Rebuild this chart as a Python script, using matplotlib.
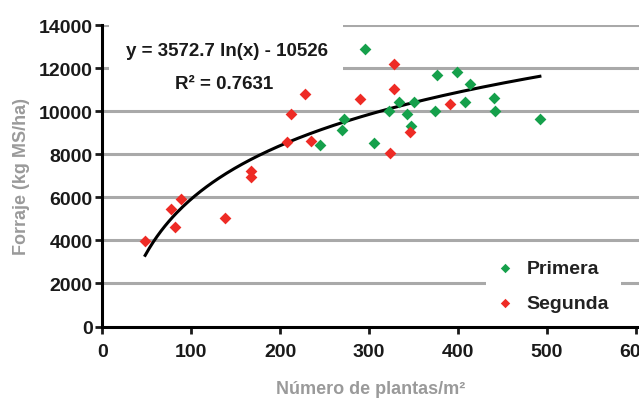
import matplotlib
matplotlib.use('Agg')
from matplotlib import pyplot as plt
from matplotlib.patches import Rectangle
import numpy as np

plt.rcParams['font.family'] = ['Liberation Sans', 'DejaVu Sans']
plt.rcParams['font.weight'] = 'bold'

# plants per m2 and forage (kg MS/ha)
primera_x = [245, 269, 272, 295, 305, 322, 333, 343, 347, 350, 374, 376, 399, 408, 413, 440, 442, 492]
primera_y = [8430, 9120, 9620, 12900, 8510, 10000, 10430, 9890, 9320, 10430, 10000, 11660, 11820, 10430, 11280, 10590, 10000, 9630]
segunda_x = [48, 77, 82, 88, 138, 167, 167, 207, 212, 228, 234, 290, 323, 328, 328, 346, 391]
segunda_y = [3950, 5470, 4600, 5940, 5060, 7240, 6920, 8570, 9860, 10790, 8610, 10550, 8050, 12170, 11050, 9040, 10310]

# log trend line as printed on the chart
coef_a = 3572.7
coef_b = -10526
r2 = 0.7631

x_ticks = [0, 100, 200, 300, 400, 500, 600]
y_ticks = [0, 2000, 4000, 6000, 8000, 10000, 12000, 14000]

fig = plt.figure(figsize=(6.39, 4.06), dpi=100)
ax = fig.add_axes([0.1604, 0.1933, 0.8396, 0.7426])

for yv in y_ticks[1:]:
    ax.axhline(yv, color='#a9a9a9', lw=2.2, zorder=1)

# white box behind the equation text
ax.add_patch(Rectangle((0.012, 0.76), 0.436, 0.27, transform=ax.transAxes,
                       fc='white', ec='none', zorder=2, clip_on=False))

ax.scatter(primera_x, primera_y, marker='D', s=36, color='#15a04b', lw=0, zorder=4, label='Primera')
ax.scatter(segunda_x, segunda_y, marker='D', s=36, color='#ee2b25', lw=0, zorder=4, label='Segunda')

all_x = primera_x + segunda_x
xt = np.linspace(min(all_x), max(all_x), 200)
ax.plot(xt, coef_a * np.log(xt) + coef_b, color='black', lw=2.2, zorder=3)

ax.text(140, 12800, 'y = 3572.7 ln(x) - 10526', ha='center', va='center',
        fontsize=13.5, color='#1a1a1a', zorder=5)
ax.text(137, 11300, 'R² = %.4f' % r2, ha='center', va='center',
        fontsize=13.5, color='#1a1a1a', zorder=5)

ax.set_xlim(0, 603.5)
ax.set_ylim(0, 14000)
ax.set_xticks(x_ticks)
ax.set_yticks(y_ticks)
for s in ['top', 'right']:
    ax.spines[s].set_visible(False)
for s in ['left', 'bottom']:
    ax.spines[s].set_linewidth(2.2)
ax.tick_params(length=5, width=2, labelsize=14, colors='#1a1a1a')
ax.tick_params(axis='x', pad=7)
ax.tick_params(axis='y', pad=2)

ax.set_ylabel('Forraje (kg MS/ha)', fontsize=13, fontweight='bold', color='#9a9a9a', labelpad=6)
ax.set_xlabel('Número de plantas/m²', fontsize=13, fontweight='bold', color='#9a9a9a', labelpad=14)

leg = ax.legend(loc='center', bbox_to_anchor=(0.84, 0.135), frameon=True, fancybox=False,
                facecolor='white', edgecolor='none', framealpha=1, fontsize=14,
                handlelength=0.8, handletextpad=0.7, labelspacing=0.9, borderpad=0.6,
                scatterpoints=1, markerscale=0.8)
leg.set_zorder(6)
for t in leg.get_texts():
    t.set_color('#222222')

fig.savefig('out.png', dpi=100)
